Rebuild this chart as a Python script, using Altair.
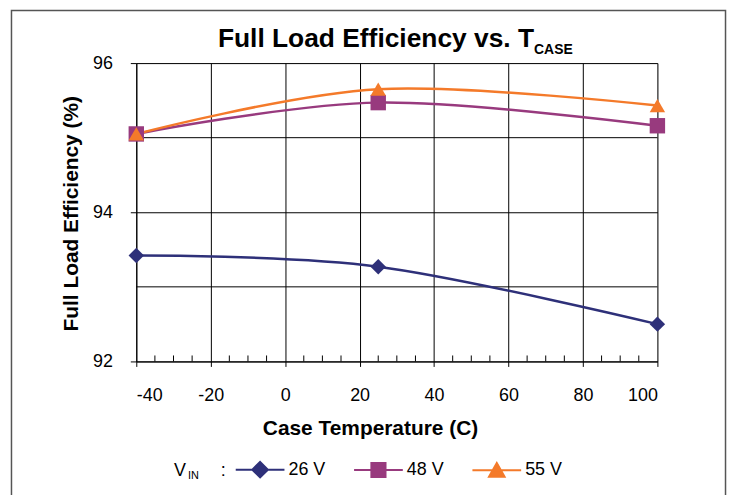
import altair as alt
import pandas as pd

# ---- data ----
temps = [-40, 25, 100]
series_names = ["26 V", "48 V", "55 V"]
eff_26 = [93.42, 93.27, 92.50]
eff_48 = [95.05, 95.47, 95.16]
eff_55 = [95.05, 95.65, 95.43]
colors = ["#2E3079", "#983A7E", "#F47A2A"]
shapes = ["diamond", "square", "triangle-up"]
legend_shapes = [
    "M-1,0H1M0,-0.32L0.32,0L0,0.32L-0.32,0Z",
    "M-1,0H1M-0.29,-0.29H0.29V0.29H-0.29Z",
    "M-1,0H1M0,-0.3L0.32,0.27H-0.32Z",
]
x_ticks = [-40, -20, 0, 20, 40, 60, 80, 100]
x_minor = [-35, -30, -25, -15, -10, -5, 5, 10, 15, 25, 30, 35, 45, 50, 55, 65, 70, 75, 85, 90, 95]
y_ticks = [92, 94, 96]
y_minor_grid = [93, 95]
title_main = ["Full Load Efficiency vs. T"]
title_sub = ["CASE"]
legend_v = ["V"]
legend_in = ["IN"]
legend_colon = [":"]
x_title = "Case Temperature (C)"
y_title = "Full Load Efficiency (%)"

FONT = "Liberation Sans"

rows = []
for name, vals in zip(series_names, [eff_26, eff_48, eff_55]):
    for t, v in zip(temps, vals):
        rows.append({"series": name, "temp": t, "eff": v})
df = pd.DataFrame(rows)

xs = alt.Scale(domain=[x_ticks[0], x_ticks[-1]], nice=False, zero=False)
ys = alt.Scale(domain=[y_ticks[0], y_ticks[-1]], nice=False, zero=False)

common_axis = dict(grid=True, gridColor="black", gridOpacity=1, gridWidth=1,
                   domainColor="black", domainWidth=1, tickColor="black", tickWidth=1,
                   labelColor="black", titleColor="black", labelFont=FONT, titleFont=FONT,
                   labelFontSize=18, titleFontSize=21, titleFontWeight="bold",
                   titleBaseline="alphabetic", titleAlign="center",
                   labelExpr="toString(datum.value)")

x_axis = alt.Axis(values=x_ticks, tickSize=5, labelPadding=20, title=x_title,
                  titleX=235, titleY=73, **common_axis)
y_axis = alt.Axis(values=y_ticks, tickSize=6, labelPadding=18, title=y_title,
                  titleX=-59, titleY=151, titleAngle=-90, **common_axis)

X = alt.X("temp:Q", scale=xs, axis=x_axis)
Y = alt.Y("eff:Q", scale=ys, axis=y_axis)

color_scale = alt.Scale(domain=series_names, range=colors)

# outer frame
frame = alt.Chart(pd.DataFrame({"k": [0]})).mark_rect(
    fillOpacity=0, stroke="#555555", strokeWidth=1.5
).encode(x=alt.value(-125.5), x2=alt.value(592.5), y=alt.value(-53), y2=alt.value(470))

# minor gridlines at odd values
grid_df = pd.DataFrame({"gy": y_minor_grid, "gx1": [x_ticks[0]] * len(y_minor_grid),
                        "gx2": [x_ticks[-1]] * len(y_minor_grid)})
minor_grid = alt.Chart(grid_df).mark_rule(color="black", strokeWidth=1).encode(
    x=alt.X("gx1:Q", scale=xs, axis=x_axis), x2="gx2:Q",
    y=alt.Y("gy:Q", scale=ys, axis=y_axis))

# minor ticks on x axis (inside)
minor_df = pd.DataFrame({"mx": x_minor})
minor_ticks = alt.Chart(minor_df).mark_rule(color="black", strokeWidth=1).encode(
    x=alt.X("mx:Q", scale=xs, axis=x_axis), y=alt.value(300), y2=alt.value(294))

lines = alt.Chart(df).mark_line(interpolate="cardinal", strokeWidth=2.5).encode(
    x=X, y=Y, color=alt.Color("series:N", scale=color_scale, legend=None))

points = alt.Chart(df).mark_point(filled=True, opacity=1, size=240).encode(
    x=X, y=Y,
    color=alt.Color("series:N", scale=color_scale, legend=None),
    shape=alt.Shape("series:N", scale=alt.Scale(domain=series_names, range=shapes), legend=None))

leg = dict(orient="none", legendX=99, legendY=383, direction="horizontal", title=None,
           symbolSize=2401, symbolStrokeWidth=2, symbolOpacity=1, labelFontSize=18,
           labelFont=FONT, labelColor="black", labelOffset=3, columnPadding=24, padding=0)

legend_layer = alt.Chart(df).mark_point(filled=True, opacity=1).encode(
    x=X, y=Y,
    fill=alt.Fill("series:N", scale=alt.Scale(domain=series_names, range=colors), legend=alt.Legend(**leg)),
    stroke=alt.Stroke("series:N", scale=alt.Scale(domain=series_names, range=colors), legend=alt.Legend(**leg)),
    shape=alt.Shape("series:N", scale=alt.Scale(domain=series_names, range=legend_shapes), legend=alt.Legend(**leg)),
).transform_filter("false")


def txt(values, x, y, size, weight="normal", align="left"):
    return alt.Chart(pd.DataFrame({"t": values})).mark_text(
        font=FONT, fontSize=size, fontWeight=weight, align=align,
        baseline="alphabetic", color="black"
    ).encode(text="t:N", x=alt.value(x), y=alt.value(y))


t_main = txt(title_main, 400, -16, 26.5, "bold", "right")
t_sub = txt(title_sub, 400, -9, 14, "bold", "left")
t_v = txt(legend_v, 38, 414.7, 18)
t_in = txt(legend_in, 52, 418.7, 11)
t_colon = txt(legend_colon, 85, 414.7, 18)

chart = alt.layer(
    frame, minor_grid, minor_ticks, lines, points, legend_layer,
    t_main, t_sub, t_v, t_in, t_colon
).resolve_scale(
    shape="independent", fill="independent", stroke="independent"
).properties(
    width=524, height=300,
    autosize=alt.AutoSizeParams(type="none"),
    padding={"left": 129, "top": 54, "right": 72, "bottom": 150},
).configure_view(stroke=None).configure(background="white")

chart.save("out.html", embed_options={"renderer": "svg", "actions": False})
